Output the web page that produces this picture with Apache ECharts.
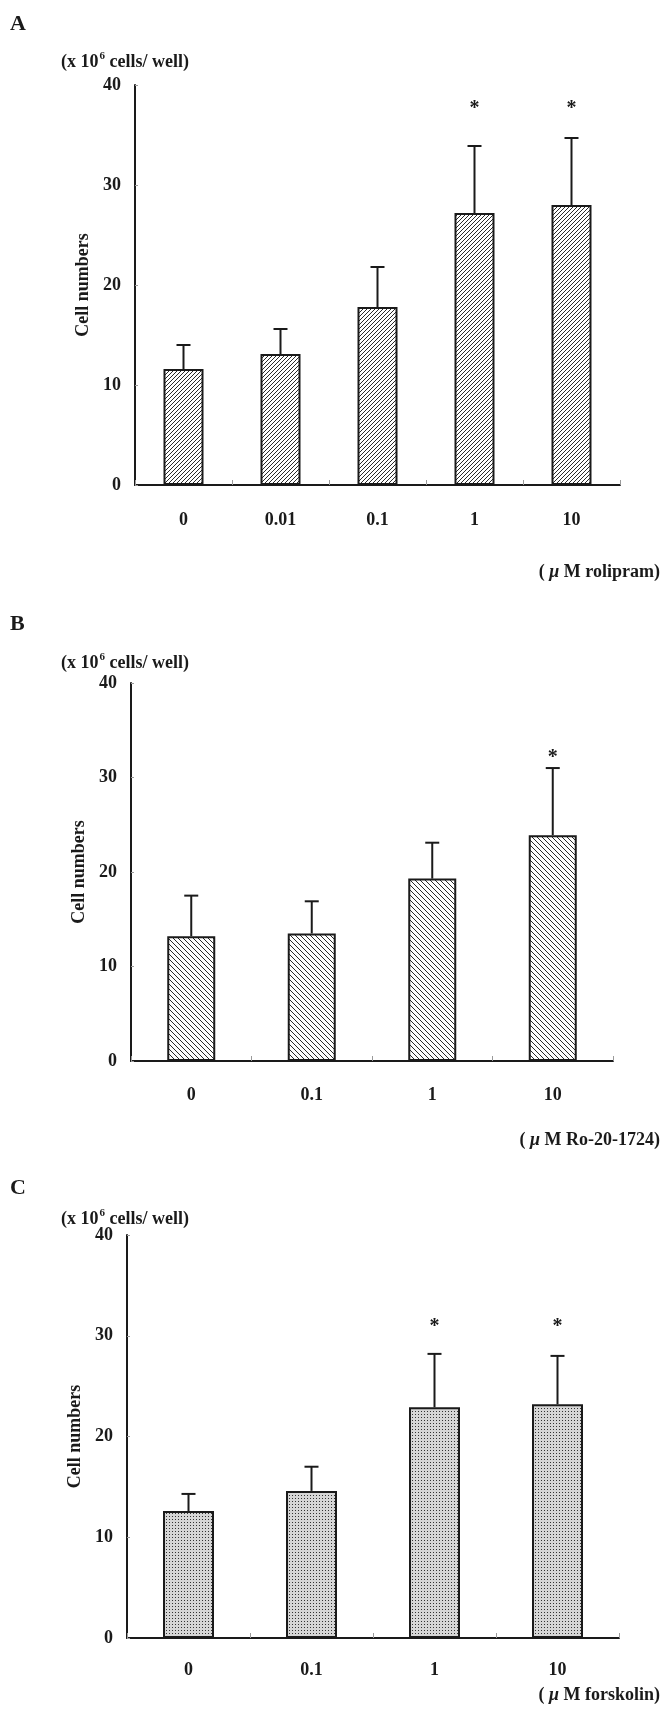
<!DOCTYPE html>
<html>
<head>
<meta charset="utf-8">
<script src="https://cdn.jsdelivr.net/npm/echarts@6/dist/echarts.min.js"></script>
<style>
  html, body { margin: 0; padding: 0; background: #fff; }
  #chart { width: 662px; height: 1716px; }
</style>
</head>
<body>
<div id="chart"></div>
<script>
// ---- Data ----
const catsA = ['0', '0.01', '0.1', '1', '10'];
const meanA = [11.6, 13.1, 17.8, 27.2, 28.0];
const errA  = [2.4, 2.5, 4.0, 6.7, 6.7];
const sigA  = [0, 0, 0, 1, 1];

const catsB = ['0', '0.1', '1', '10'];
const meanB = [13.2, 13.5, 19.3, 23.9];
const errB  = [4.3, 3.4, 3.8, 7.1];
const sigB  = [0, 0, 0, 1];

const catsC = ['0', '0.1', '1', '10'];
const meanC = [12.6, 14.6, 22.9, 23.2];
const errC  = [1.7, 2.4, 5.3, 4.8];
const sigC  = [0, 0, 1, 1];

const yTicks = [0, 10, 20, 30, 40];
const starLevel = [38.0, 32.5, 31.3];

// ---- Styling helpers ----
const FONT = 'Liberation Serif';
const INK = '#1a1a1a';

function hatch(dir, size) {
  const c = document.createElement('canvas');
  c.width = size; c.height = size;
  const g = c.getContext('2d');
  g.fillStyle = '#fff'; g.fillRect(0, 0, size, size);
  g.strokeStyle = '#2a2a2a'; g.lineWidth = 1;
  g.beginPath();
  if (dir > 0) {
    g.moveTo(0, size); g.lineTo(size, 0);
    g.moveTo(-1, 1); g.lineTo(1, -1);
    g.moveTo(size - 1, size + 1); g.lineTo(size + 1, size - 1);
  } else {
    g.moveTo(0, 0); g.lineTo(size, size);
    g.moveTo(-1, size - 1); g.lineTo(1, size + 1);
    g.moveTo(size - 1, -1); g.lineTo(size + 1, 1);
  }
  g.stroke();
  return c;
}
function dots() {
  const c = document.createElement('canvas');
  c.width = 3; c.height = 3;
  const g = c.getContext('2d');
  g.fillStyle = '#d6d6d6'; g.fillRect(0, 0, 3, 3);
  g.fillStyle = '#333333'; g.fillRect(1, 1, 1, 1);
  return c;
}

const panels = [
  { cats: catsA, mean: meanA, err: errA, sig: sigA, grid: { left: 135, right: 42, top: 85, height: 400 },
    barWidth: 40, fill: { image: hatch(1, 4), repeat: 'repeat' }, nameGap: 43, labelMargin: 26 },
  { cats: catsB, mean: meanB, err: errB, sig: sigB, grid: { left: 131, right: 49, top: 683, height: 378 },
    barWidth: 48, fill: { image: hatch(-1, 5), repeat: 'repeat' }, nameGap: 38, labelMargin: 25 },
  { cats: catsC, mean: meanC, err: errC, sig: sigC, grid: { left: 127, right: 43, top: 1235, height: 403 },
    barWidth: 51, fill: { image: dots(), repeat: 'repeat' }, nameGap: 33, labelMargin: 23 }
];

const grids = [], xAxes = [], yAxes = [], series = [];
panels.forEach((p, k) => {
  grids.push(Object.assign({ containLabel: false }, p.grid));
  xAxes.push({
    type: 'category', gridIndex: k, data: p.cats, boundaryGap: true,
    axisLine: { lineStyle: { color: INK, width: 2 } },
    axisTick: { show: true, inside: true, length: 5, lineStyle: { color: '#9a9a9a', width: 1 } },
    axisLabel: { color: INK, fontFamily: FONT, fontWeight: 'bold', fontSize: 18, margin: p.labelMargin },
    splitLine: { show: false }
  });
  yAxes.push({
    type: 'value', gridIndex: k, min: yTicks[0], max: yTicks[yTicks.length - 1], interval: 10,
    name: 'Cell numbers', nameLocation: 'middle', nameGap: p.nameGap,
    nameTextStyle: { color: INK, fontFamily: FONT, fontWeight: 'bold', fontSize: 18 },
    axisLine: { show: true, lineStyle: { color: INK, width: 2 } },
    axisTick: { show: true, inside: true, length: 3, lineStyle: { color: '#9a9a9a', width: 1 } },
    axisLabel: { color: INK, fontFamily: FONT, fontWeight: 'bold', fontSize: 18, margin: 14 },
    splitLine: { show: false }
  });
  series.push({
    type: 'bar', xAxisIndex: k, yAxisIndex: k, data: p.mean, barWidth: p.barWidth,
    itemStyle: { color: p.fill, borderColor: INK, borderWidth: 2 },
    emphasis: { disabled: true }, silent: true, z: 2
  });
  const lvl = starLevel[k];
  series.push({
    type: 'custom', xAxisIndex: k, yAxisIndex: k, silent: true, z: 3,
    data: p.mean.map((m, i) => [i, m, p.err[i], p.sig[i]]),
    renderItem: function (params, api) {
      const i = api.value(0), m = api.value(1), e = api.value(2), s = api.value(3);
      const a = api.coord([i, m]);
      const b = api.coord([i, m + e]);
      const st = { stroke: INK, lineWidth: 2 };
      const children = [
        { type: 'line', shape: { x1: a[0], y1: a[1], x2: b[0], y2: b[1] }, style: st },
        { type: 'line', shape: { x1: b[0] - 7, y1: b[1], x2: b[0] + 7, y2: b[1] }, style: st }
      ];
      if (s) {
        const c = api.coord([i, lvl]);
        children.push({ type: 'text', style: { text: '*', x: c[0], y: c[1] + 4, align: 'center', verticalAlign: 'middle',
          font: 'bold 20px "' + FONT + '"', fill: INK } });
      }
      return { type: 'group', children: children };
    }
  });
});

const unitRich = {
  a: { fontFamily: FONT, fontWeight: 'bold', fontSize: 18, fill: INK, color: INK, lineHeight: 22 },
  s: { fontFamily: FONT, fontWeight: 'bold', fontSize: 11, fill: INK, color: INK, lineHeight: 22, verticalAlign: 'top', padding: [0, 0, 8, 1] }
};
const muRich = {
  a: { fontFamily: FONT, fontWeight: 'bold', fontSize: 18, fill: INK, color: INK },
  m: { fontFamily: FONT, fontWeight: 'bold', fontStyle: 'italic', fontSize: 18, fill: INK, color: INK }
};
function letter(t, y) {
  return { type: 'text', x: 10, y: y, style: { text: t, font: 'bold 22px "' + FONT + '"', fill: INK, verticalAlign: 'middle' } };
}
function unitTop(y) {
  return { type: 'text', x: 61, y: y, style: { text: '{a|(x 10}{s|6}{a| cells/ well)}', rich: unitRich, verticalAlign: 'middle' } };
}
function unitBottom(t, y) {
  return { type: 'text', x: 660, y: y, style: { text: '{a|( }{m|\u03bc}{a| M ' + t + ')}', rich: muRich, align: 'right', verticalAlign: 'middle' } };
}

const chart = echarts.init(document.getElementById('chart'), null, { renderer: 'canvas' });
chart.setOption({
  backgroundColor: '#ffffff',
  animation: false,
  grid: grids,
  xAxis: xAxes,
  yAxis: yAxes,
  series: series,
  graphic: [
    letter('A', 24), unitTop(62), unitBottom('rolipram', 572),
    letter('B', 624), unitTop(663), unitBottom('Ro-20-1724', 1140),
    letter('C', 1188), unitTop(1219), unitBottom('forskolin', 1695)
  ]
});
</script>
</body>
</html>
